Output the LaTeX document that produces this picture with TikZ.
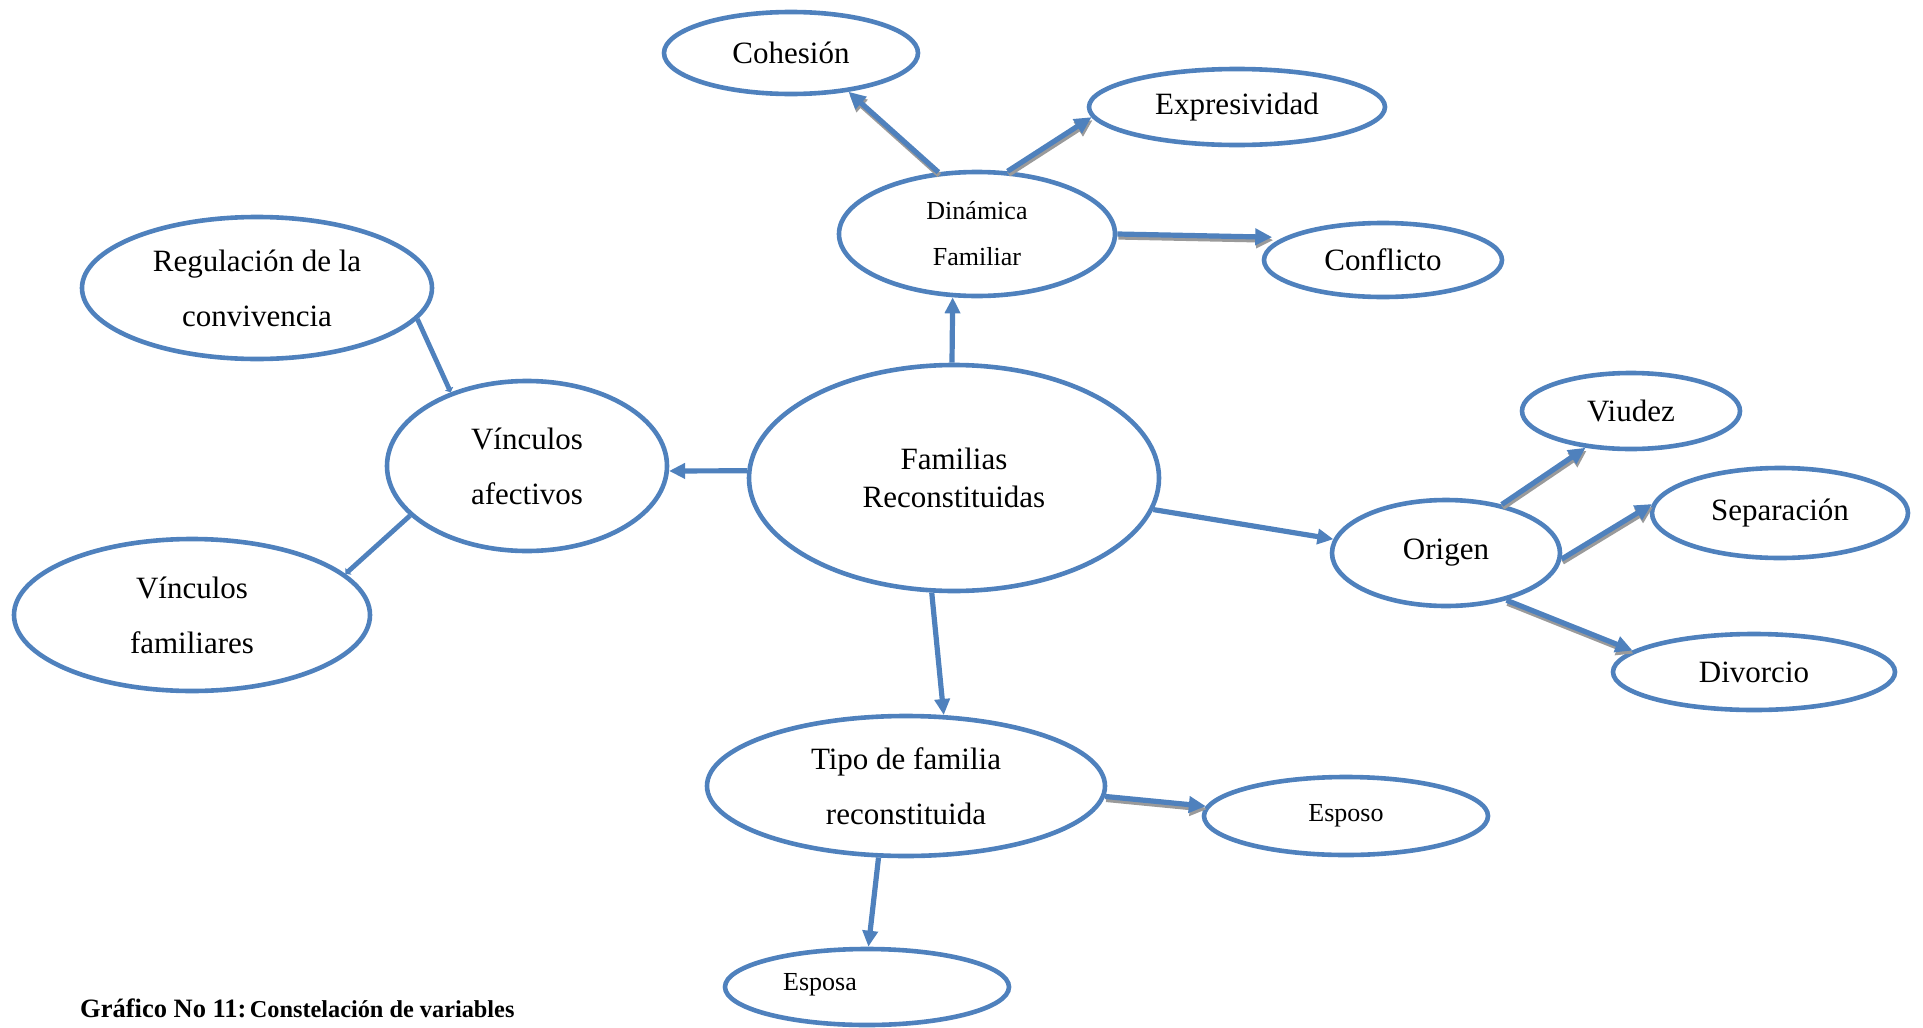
\documentclass[tikz,border=0pt]{standalone}
\usepackage{fontspec}
\setmainfont{Liberation Serif}
\usetikzlibrary{shapes.geometric,arrows.meta}
\definecolor{ob}{HTML}{4F81BD}
\definecolor{shd}{HTML}{9A9A9A}
\begin{document}
\begin{tikzpicture}[x=1pt,y=-1pt,
  bub/.style={ellipse, draw=ob, line width=4.6pt, inner sep=0pt, align=center, fill=white},
  big/.style={font=\fontsize{31}{55}\selectfont},
  sm/.style={font=\fontsize{26}{46}\selectfont},
  conn/.style={draw=ob, line width=5.2pt, -{Triangle[length=16pt,width=15pt]}},
  thin/.style={draw=ob, line width=4.8pt, -{Triangle[length=4pt,width=9pt]}},
  sh/.style={draw=shd, line width=5.2pt, -{Triangle[length=17pt,width=16pt]}, transform canvas={xshift=1pt,yshift=-3pt}},
  sb/.style={draw=ob, line width=5.2pt, -{Triangle[length=17pt,width=16pt]}}
]
\useasboundingbox (0,0) rectangle (1923,1028);

% nodes
\node[bub,big,minimum width=254pt,minimum height=82pt] (coh) at (791,53) {Cohesión};
\node[bub,big,minimum width=296pt,minimum height=76pt] (exp) at (1237,107) {Expresividad};
\node[bub,sm,minimum width=276pt,minimum height=124pt] (dyn) at (977,234) {Dinámica\\Familiar};
\node[bub,big,minimum width=238pt,minimum height=74pt] (con) at (1383,260) {Conflicto};
\node[bub,big,minimum width=350pt,minimum height=142pt] (reg) at (257,288) {Regulación de la\\convivencia};
\node[bub,big,minimum width=280pt,minimum height=170pt] (vaf) at (527,466) {Vínculos\\afectivos};
\node[bub,font=\fontsize{31}{38}\selectfont,minimum width=410pt,minimum height=226pt] (fam) at (954,478) {Familias\\Reconstituidas};
\node[bub,big,minimum width=356pt,minimum height=152pt] (vfa) at (192,615) {Vínculos\\familiares};
\node[bub,big,minimum width=228pt,minimum height=106pt] (ori) at (1446,553) {Origen};
\node[bub,big,minimum width=218pt,minimum height=76pt] (viu) at (1631,411) {Viudez};
\node[bub,big,minimum width=256pt,minimum height=90pt] (sep) at (1780,513) {Separación};
\node[bub,big,minimum width=282pt,minimum height=76pt] (div) at (1754,672) {Divorcio};
\node[bub,big,minimum width=398pt,minimum height=140pt] (tip) at (906,786) {Tipo de familia\\reconstituida};
\node[bub,sm,minimum width=284pt,minimum height=78pt] (eso) at (1346,816) {Esposo};
\node[bub,sm,minimum width=284pt,minimum height=76pt,
      label={[font=\fontsize{26}{30}\selectfont,xshift=-47pt,yshift=2pt]center:Esposa}] (esa) at (867,987) {};

% caption
\node[anchor=base west, inner sep=0pt] (cap) at (80,1017)
  {{\fontsize{26.5}{30}\selectfont\bfseries Gráfico No 11:} {\fontsize{24.3}{28}\selectfont\bfseries Constelación de variables}};

% plain connectors
\draw[conn] (fam.91) -- (dyn.249);
\draw[conn] (fam.178) -- (vaf.358);
\draw[conn] (fam.-9.4) -- (ori.173.6);
\draw[conn] (fam.259.4) -- (tip.62.2);
\draw[thin] (reg.-11) -- (vaf.136.6);
\draw[thin] (vaf.203.2) -- (vfa.15.5);

% shadowed connectors
\draw[sh] (dyn.122.5) -- (coh.-34.5);
\draw[sb] (dyn.122.5) -- (coh.-34.5);
\draw[sh] (dyn.64.6) -- (exp.184.8);
\draw[sb] (dyn.64.6) -- (exp.184.8);
\draw[sh] (dyn.0) -- ([xshift=-12pt]con.167.5);
\draw[sb] (dyn.0) -- ([xshift=-12pt]con.167.5);
\draw[sh] (ori.41.5) -- (viu.219.5);
\draw[sb] (ori.41.5) -- (viu.219.5);
\draw[sh] (ori.-3) -- (sep.176.2);
\draw[sb] (ori.-3) -- (sep.176.2);
\draw[sh] (ori.-38.2) -- (div.170);
\draw[sb] (ori.-38.2) -- (div.170);
\draw[sh] (tip.-3.4) -- (eso.176.3);
\draw[sb] (tip.-3.4) -- (eso.176.3);
\draw[conn] (tip.249.3) -- (esa.88.4);
\end{tikzpicture}
\end{document}
